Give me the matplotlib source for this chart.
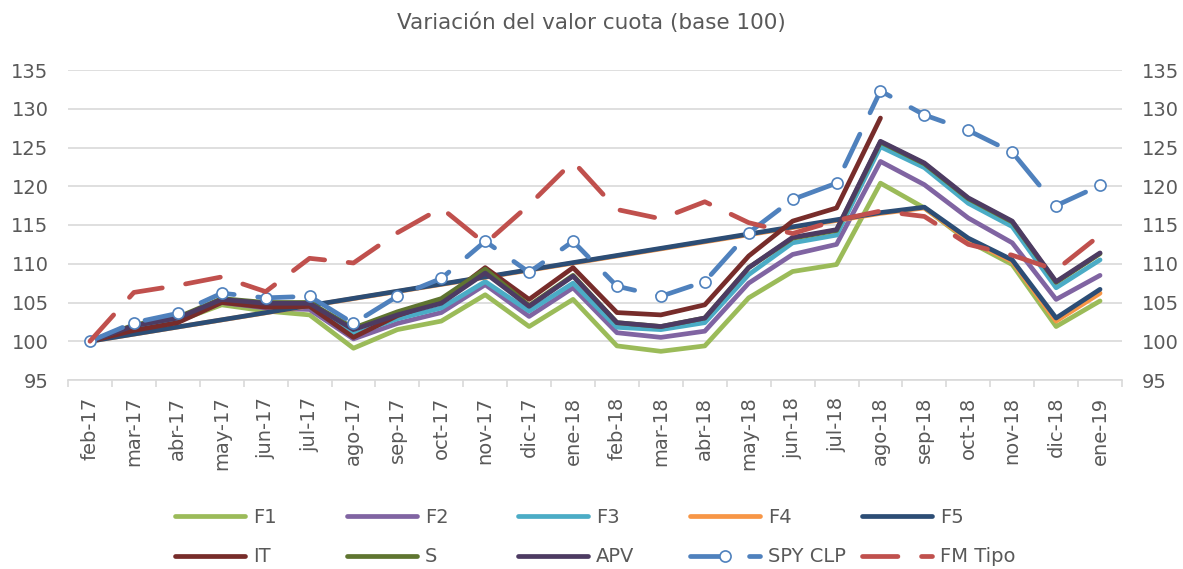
import numpy as np
import matplotlib.pyplot as plt

months = ['feb-17', 'mar-17', 'abr-17', 'may-17', 'jun-17', 'jul-17', 'ago-17',
          'sep-17', 'oct-17', 'nov-17', 'dic-17', 'ene-18', 'feb-18', 'mar-18',
          'abr-18', 'may-18', 'jun-18', 'jul-18', 'ago-18', 'sep-18', 'oct-18',
          'nov-18', 'dic-18', 'ene-19']
nan = np.nan

f1 = [100, 101.6, 102.6, 104.7, 103.9, 103.4, 99.1, 101.5, 102.6, 106.0, 101.9, 105.4,
      99.4, 98.7, 99.4, 105.6, 109.0, 109.9, 120.4, 117.2, 112.9, 109.9, 101.9, 105.2]
f2 = [100, 101.7, 102.8, 105.0, 104.3, 104.1, 100.3, 102.3, 103.7, 107.3, 103.2, 106.9,
      101.1, 100.5, 101.3, 107.5, 111.2, 112.5, 123.2, 120.2, 115.9, 112.7, 105.4, 108.5]
f3 = [100, 101.8, 102.9, 105.2, 104.6, 104.5, 100.9, 102.9, 104.3, 107.7, 103.9, 107.5,
      101.8, 101.5, 102.4, 108.6, 112.7, 113.7, 125.1, 122.4, 117.8, 114.8, 106.9, 110.5]
f4 = [100, nan, nan, nan, nan, nan, nan, nan, nan, nan, nan, nan,
      nan, nan, nan, nan, nan, nan, 116.5, 117.2, 113.1, 110.3, 102.6, 106.2]
f5 = [100, nan, nan, nan, nan, nan, nan, nan, nan, nan, nan, nan,
      nan, nan, nan, nan, nan, nan, 116.6, 117.3, 113.3, 110.5, 103.0, 106.7]
it = [100, 101.4, 102.4, 105.0, 104.4, 104.5, 100.5, 103.3, 105.2, 109.5, 105.4, 109.5,
      103.7, 103.4, 104.7, 111.0, 115.5, 117.2, 128.8, nan, nan, nan, nan, nan]
s = [100, 102.1, 103.1, 105.5, 105.0, 105.0, 101.7, 103.8, 105.5, 109.3, 104.6, 108.5,
     102.4, 101.9, 103.0, 109.5, 113.3, 114.3, 125.7, 122.9, 118.4, 115.4, 107.6, 111.3]
apv = [100, 102.0, 103.0, 105.4, 104.9, 104.9, 101.5, 103.4, 104.9, 108.8, 104.5, 108.4,
       102.4, 101.9, 103.0, 109.5, 113.4, 114.4, 125.8, 123.0, 118.5, 115.5, 107.7, 111.4]
spy = [100, 102.4, 103.6, 106.2, 105.6, 105.8, 102.3, 105.8, 108.1, 112.9, 108.9, 112.9,
       107.1, 105.8, 107.7, 114.0, 118.3, 120.4, 132.3, 129.2, 127.2, 124.4, 117.5, 120.1]
fm = [100, 106.3, 107.2, 108.3, 106.4, 110.7, 110.1, 114.0, 117.2, 112.6, 117.6, 123.2,
      117.0, 115.8, 118.0, 115.3, 113.9, 115.6, 116.8, 116.1, 112.5, 111.1, 109.2, 113.7]

gray = '#595959'
plt.rcParams['font.family'] = 'DejaVu Sans'

fig = plt.figure(figsize=(11.83, 5.69), dpi=100)
ax = fig.add_axes([68 / 1183, 1 - 380 / 569, 1054 / 1183, 310 / 569])

x = np.arange(len(months))
lw = 3.4


def draw(vals, color, label, **kw):
    # gaps (nan) are bridged like the original chart
    v = np.array(vals, dtype=float)
    m = ~np.isnan(v)
    line, = ax.plot(x[m], v[m], color=color, lw=lw, label=label,
                    solid_joinstyle='round', solid_capstyle='round',
                    dash_capstyle='round', **kw)
    return line


h = []
h.append(draw(f1, '#9BBB59', 'F1'))
h.append(draw(f2, '#8064A2', 'F2'))
h.append(draw(f3, '#4BACC6', 'F3'))
h.append(draw(f4, '#F79646', 'F4'))
h.append(draw(f5, '#2C4D75', 'F5'))
h.append(draw(it, '#772C2A', 'IT'))
h.append(draw(s, '#5F7530', 'S'))
h.append(draw(apv, '#4D3B62', 'APV'))
h.append(draw(spy, '#4F81BD', 'SPY CLP', dashes=(7.5, 5), marker='o', markersize=8,
              markerfacecolor='white', markeredgecolor='#4F81BD', markeredgewidth=1.2))
h.append(draw(fm, '#C0504D', 'FM Tipo', dashes=(7.5, 5)))

ax.set_xlim(-0.5, len(months) - 0.5)
ax.set_ylim(95, 135)
ax.set_yticks(range(95, 136, 5))
ax.grid(axis='y', color='#D9D9D9', lw=1.2)
ax.set_axisbelow(True)
for side in ['left', 'right', 'top']:
    ax.spines[side].set_visible(False)
ax.spines['bottom'].set_color('#D9D9D9')
ax.spines['bottom'].set_linewidth(1.2)

ax.set_xticks(x)
ax.set_xticklabels(months, rotation=90)
ax.set_xticks(np.arange(-0.5, len(months), 1), minor=True)
ax.tick_params(axis='x', which='major', length=0, pad=12, labelsize=14, labelcolor=gray)
ax.tick_params(axis='x', which='minor', length=5, color='#D9D9D9', width=1.2)
ax.tick_params(axis='y', length=0, pad=14, labelsize=14, labelcolor=gray,
               labelright=True)

fig.text(0.5, 1 - 23 / 569, 'Variación del valor cuota (base 100)', ha='center',
         va='center', fontsize=15.5, color=gray)

# legend: five columns of two entries, placed like the original
col_x = [175, 347, 518, 690, 862]
for j in range(5):
    leg = fig.legend(handles=[h[j], h[j + 5]], loc='upper left',
                     bbox_to_anchor=(col_x[j] / 1183, 1 - 508 / 569),
                     frameon=False, fontsize=14, handlelength=3.6,
                     handletextpad=0.4, labelspacing=1.05, borderaxespad=0,
                     borderpad=0)
    for t in leg.get_texts():
        t.set_color(gray)

fig.savefig('out.png', dpi=100)
